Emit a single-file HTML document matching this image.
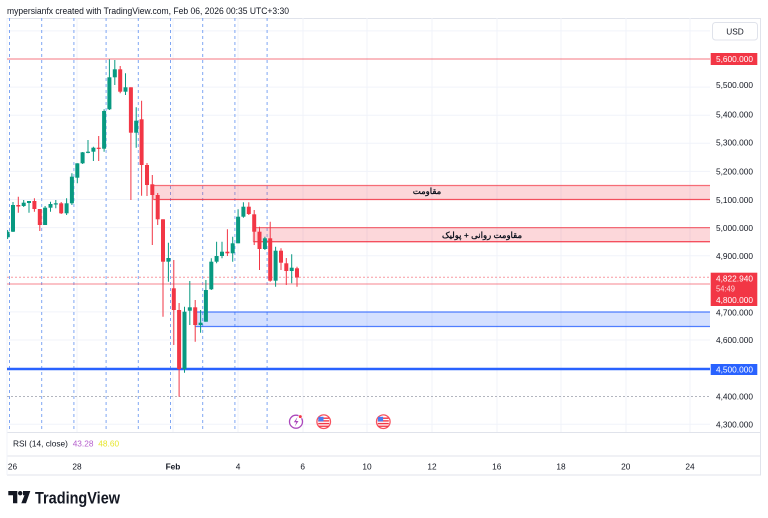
<!DOCTYPE html>
<html><head><meta charset="utf-8"><style>
html,body{margin:0;padding:0;background:#fff;width:768px;height:518px;overflow:hidden}
svg{display:block}
text{font-family:"Liberation Sans",Arial,sans-serif}
</style></head><body>
<svg width="768" height="518" viewBox="0 0 768 518" xmlns="http://www.w3.org/2000/svg">
<defs><clipPath id="pane"><rect x="7" y="18" width="703" height="414"/></clipPath></defs>
<rect width="768" height="518" fill="#fff"/>
<text x="7" y="14" font-size="8.8" fill="#131722" textLength="282" lengthAdjust="spacingAndGlyphs">mypersianfx created with TradingView.com, Feb 06, 2026 00:35 UTC+3:30</text>

<!-- frame -->
<g stroke="#e0e3eb" stroke-width="1" fill="none">
<line x1="7" y1="18.5" x2="761" y2="18.5"/>
<line x1="7" y1="432.5" x2="761" y2="432.5"/>
<line x1="7" y1="456" x2="761" y2="456"/>
<line x1="7" y1="475" x2="761" y2="475"/>
<line x1="760.5" y1="18" x2="760.5" y2="475"/>
<line x1="7" y1="18" x2="7" y2="475" stroke="#f0f3fa"/>
</g>

<g clip-path="url(#pane)">
<!-- horizontal grid -->
<g stroke="#f0f3fa" stroke-width="1">
<line x1="7" x2="710" y1="30.9" y2="30.9"/><line x1="7" x2="710" y1="87.1" y2="87.1"/>
<line x1="7" x2="710" y1="115.2" y2="115.2"/><line x1="7" x2="710" y1="143.3" y2="143.3"/>
<line x1="7" x2="710" y1="171.4" y2="171.4"/><line x1="7" x2="710" y1="199.5" y2="199.5"/>
<line x1="7" x2="710" y1="227.6" y2="227.6"/><line x1="7" x2="710" y1="255.7" y2="255.7"/>
<line x1="7" x2="710" y1="311.9" y2="311.9"/><line x1="7" x2="710" y1="340" y2="340"/>
<line x1="7" x2="710" y1="424.3" y2="424.3"/>
</g>
<!-- vertical grid -->
<g stroke="#f0f3fa" stroke-width="1">
<line x1="77" x2="77" y1="18" y2="432"/><line x1="173" x2="173" y1="18" y2="432"/>
<line x1="238" x2="238" y1="18" y2="432"/><line x1="303" x2="303" y1="18" y2="432"/>
<line x1="367" x2="367" y1="18" y2="432"/><line x1="432" x2="432" y1="18" y2="432"/>
<line x1="497" x2="497" y1="18" y2="432"/><line x1="561" x2="561" y1="18" y2="432"/>
<line x1="626" x2="626" y1="18" y2="432"/><line x1="690" x2="690" y1="18" y2="432"/>
</g>
<!-- session dashed lines -->
<g stroke="#7fa6f3" stroke-width="1" stroke-dasharray="3,3">
<line x1="9.5" x2="9.5" y1="18" y2="432"/><line x1="41.7" x2="41.7" y1="18" y2="432"/>
<line x1="73.9" x2="73.9" y1="18" y2="432"/><line x1="106.1" x2="106.1" y1="18" y2="432"/>
<line x1="138.3" x2="138.3" y1="18" y2="432"/><line x1="170.5" x2="170.5" y1="18" y2="432"/>
<line x1="202.7" x2="202.7" y1="18" y2="432"/><line x1="234.9" x2="234.9" y1="18" y2="432"/>
<line x1="267.1" x2="267.1" y1="18" y2="432"/>
</g>

<!-- zones -->
<rect x="153.3" y="185.5" width="556.7" height="14" fill="#f23645" fill-opacity="0.2"/>
<line x1="153.3" x2="710" y1="185.5" y2="185.5" stroke="#f23645" stroke-opacity="0.7" stroke-width="1.3"/>
<line x1="153.3" x2="710" y1="199.5" y2="199.5" stroke="#f23645" stroke-opacity="0.85" stroke-width="1.3"/>
<line x1="153.3" x2="153.3" y1="185.5" y2="199.5" stroke="#f23645" stroke-opacity="0.5"/>

<rect x="253.3" y="227.6" width="456.7" height="14.1" fill="#f23645" fill-opacity="0.2"/>
<line x1="253.3" x2="710" y1="227.6" y2="227.6" stroke="#f23645" stroke-opacity="0.7" stroke-width="1.3"/>
<line x1="253.3" x2="710" y1="241.7" y2="241.7" stroke="#f23645" stroke-opacity="0.85" stroke-width="1.3"/>
<line x1="253.3" x2="253.3" y1="227.6" y2="241.7" stroke="#f23645" stroke-opacity="0.5"/>

<rect x="195" y="312" width="515" height="14.5" fill="#2962ff" fill-opacity="0.2"/>
<line x1="195" x2="710" y1="312" y2="312" stroke="#2962ff" stroke-opacity="0.8" stroke-width="1.3"/>
<line x1="195" x2="710" y1="326.5" y2="326.5" stroke="#2962ff" stroke-opacity="0.8" stroke-width="1.3"/>
<line x1="195" x2="195" y1="312" y2="326.5" stroke="#2962ff" stroke-opacity="0.5"/>

<text x="427" y="194" font-size="8.5" font-weight="bold" fill="#131722" text-anchor="middle" font-family="'DejaVu Sans',sans-serif">مقاومت</text>
<text x="482" y="238" font-size="8.5" font-weight="bold" fill="#131722" text-anchor="middle" font-family="'DejaVu Sans',sans-serif">مقاومت روانی + پولیک</text>

<!-- horizontal levels -->
<line x1="7" x2="710" y1="59" y2="59" stroke="#f23645" stroke-opacity="0.45" stroke-width="1.5"/>
<line x1="7" x2="710" y1="277.3" y2="277.3" stroke="#f23645" stroke-opacity="0.5" stroke-width="1" stroke-dasharray="2,2"/>
<line x1="7" x2="710" y1="284" y2="284" stroke="#f23645" stroke-opacity="0.6" stroke-width="1"/>
<line x1="7" x2="710" y1="396.5" y2="396.5" stroke="#b2b5be" stroke-width="1" stroke-dasharray="2,2"/>
<line x1="7" x2="710" y1="369" y2="369" stroke="#2962ff" stroke-width="2.5"/>

<!-- wicks -->
<path fill="none" stroke="#089981" stroke-width="1" d="M7.6 230V239M13 202V232M23.7 200V207M29 201V212.7M45.1 206V225M50.5 201.7V211.7M55.8 200V208.3M66.6 198.3V215M71.9 173.3V205M77.3 163.3V183.3M82.6 152V164M88 140V153.3M93.4 146.7V161M104.1 109.3V151.7M109.4 59.3V110M114.8 60V85M125.5 73.3V95M136.2 107.3V147.7M168.4 242.7V281.7M184.5 306.7V372.7M189.8 281V325M200.6 310V332.7M205.9 280V321.7M211.3 258.3V290M216.6 241.7V263.3M222 241.7V258.3M232.7 236.7V261.7M238.1 209.3V243.3M243.4 202.3V217.7M264.9 236.7V250M275.6 246.7V286.7M291.7 254.3V283.3"/>
<path fill="none" stroke="#f23645" stroke-width="1" d="M18.3 196.7V212.7M34.4 198.3V211.7M39.8 209V231M61.2 202V214M98.7 136V161M120.2 66V93.3M130.9 87.3V200M141.6 100.7V195.7M147 163V196M152.3 175V245M157.7 193V225M163 219.3V316.7M173.8 260V345M179.1 303V396.7M195.2 300V341.7M227.4 229.3V256M248.8 202.3V215M254.2 210V245M259.5 226.7V270M270.2 221.7V281.7M281 248.3V270M286.3 258V285M297 266.7V286.7"/>
<!-- green bodies -->
<g fill="#089981">
<rect x="5.6" y="231.7" width="4" height="5.6"/><rect x="11" y="205" width="4" height="26.7"/>
<rect x="21.7" y="202.7" width="4" height="3.3"/><rect x="27" y="201" width="4" height="2"/>
<rect x="43.1" y="207.7" width="4" height="17.3"/><rect x="48.5" y="204" width="4" height="3.7"/>
<rect x="53.8" y="203.3" width="4" height="1.2"/><rect x="64.6" y="203.3" width="4" height="10"/>
<rect x="69.9" y="176.7" width="4" height="26.6"/><rect x="75.3" y="163.3" width="4" height="14.4"/>
<rect x="80.6" y="152.3" width="4" height="11"/><rect x="86" y="151.7" width="4" height="1.2"/>
<rect x="91.4" y="147.7" width="4" height="4"/><rect x="102.1" y="111" width="4" height="37.7"/>
<rect x="107.4" y="77.3" width="4" height="32"/><rect x="112.8" y="69.3" width="4" height="8"/>
<rect x="123.5" y="87.3" width="4" height="4.4"/><rect x="134.2" y="120.7" width="4" height="12"/>
<rect x="166.4" y="258" width="4" height="3.7"/><rect x="182.5" y="311.7" width="4" height="57.3"/>
<rect x="187.8" y="307.3" width="4" height="3.4"/><rect x="198.6" y="322.7" width="4" height="2.3"/>
<rect x="203.9" y="290" width="4" height="31.7"/><rect x="209.3" y="261.7" width="4" height="27.6"/>
<rect x="214.6" y="256" width="4" height="5.7"/><rect x="220" y="251.7" width="4" height="4.3"/>
<rect x="230.7" y="243.3" width="4" height="10"/><rect x="236.1" y="216.7" width="4" height="26.6"/>
<rect x="241.4" y="206.7" width="4" height="10"/><rect x="262.9" y="238.3" width="4" height="10.7"/>
<rect x="273.6" y="250.7" width="4" height="30"/><rect x="289.7" y="267.7" width="4" height="3.3"/>
</g>
<!-- red bodies -->
<g fill="#f23645">
<rect x="16.3" y="205" width="4" height="1.5"/><rect x="32.4" y="201" width="4" height="8"/>
<rect x="37.8" y="209" width="4" height="16"/><rect x="59.2" y="203.3" width="4" height="10"/>
<rect x="96.7" y="147.7" width="4" height="1.2"/><rect x="118.2" y="69.3" width="4" height="22.4"/>
<rect x="128.9" y="87.3" width="4" height="45.4"/><rect x="139.6" y="119.3" width="4" height="45.7"/>
<rect x="145" y="165" width="4" height="20"/><rect x="150.3" y="184.3" width="4" height="10.7"/>
<rect x="155.7" y="195" width="4" height="24.3"/><rect x="161" y="219.3" width="4" height="42.4"/>
<rect x="171.8" y="288.3" width="4" height="21.7"/><rect x="177.1" y="310" width="4" height="59"/>
<rect x="193.2" y="307.3" width="4" height="17.7"/><rect x="225.4" y="251.7" width="4" height="1.6"/>
<rect x="246.8" y="206.7" width="4" height="7.3"/><rect x="252.2" y="214.3" width="4" height="17.4"/>
<rect x="257.5" y="231.7" width="4" height="17.3"/><rect x="268.2" y="238.3" width="4" height="42.4"/>
<rect x="279" y="250.7" width="4" height="12"/><rect x="284.3" y="263.3" width="4" height="7.7"/>
<rect x="295" y="268.3" width="4" height="9.2"/>
</g>

<!-- event icons -->
<circle cx="296" cy="421.7" r="6.5" fill="#fff" stroke="#ab47bc" stroke-width="1.3"/>
<path d="M297.5 417L293.8 422.3H296.3L294.8 426.5L298.5 421H296Z" fill="#ab47bc"/>
<circle cx="300.3" cy="416.6" r="1.8" fill="#f23645" stroke="#fff" stroke-width="0.6"/>
<g>
<circle cx="323.7" cy="421.7" r="6.8" fill="#fff" stroke="#f7525f" stroke-width="1.3"/>
<rect x="318.5" y="417.5" width="10.4" height="1.4" fill="#f23645"/>
<rect x="318.2" y="420.2" width="11" height="1.4" fill="#f23645"/>
<rect x="318.2" y="422.9" width="11" height="1.4" fill="#f23645"/>
<rect x="318.8" y="425.6" width="9.8" height="1.3" fill="#f23645"/>
<rect x="318.3" y="416.8" width="5.2" height="4.6" fill="#4a7cf3"/>
</g>
<g>
<circle cx="383.3" cy="421.7" r="6.8" fill="#fff" stroke="#f7525f" stroke-width="1.3"/>
<rect x="378.1" y="417.5" width="10.4" height="1.4" fill="#f23645"/>
<rect x="377.8" y="420.2" width="11" height="1.4" fill="#f23645"/>
<rect x="377.8" y="422.9" width="11" height="1.4" fill="#f23645"/>
<rect x="378.4" y="425.6" width="9.8" height="1.3" fill="#f23645"/>
<rect x="377.9" y="416.8" width="5.2" height="4.6" fill="#4a7cf3"/>
</g>
</g>

<!-- price axis -->
<rect x="712.5" y="22.5" width="45" height="17.5" rx="3" fill="#fff" stroke="#e0e3eb"/>
<text x="735" y="34.5" font-size="8.3" fill="#131722" text-anchor="middle">USD</text>
<g font-size="8.3" fill="#131722">
<text x="716" y="88" textLength="37" lengthAdjust="spacingAndGlyphs">5,500.000</text>
<text x="716" y="117.3" textLength="37" lengthAdjust="spacingAndGlyphs">5,400.000</text>
<text x="716" y="145.7" textLength="37" lengthAdjust="spacingAndGlyphs">5,300.000</text>
<text x="716" y="174.7" textLength="37" lengthAdjust="spacingAndGlyphs">5,200.000</text>
<text x="716" y="203" textLength="37" lengthAdjust="spacingAndGlyphs">5,100.000</text>
<text x="716" y="231" textLength="37" lengthAdjust="spacingAndGlyphs">5,000.000</text>
<text x="716" y="259" textLength="37" lengthAdjust="spacingAndGlyphs">4,900.000</text>
<text x="716" y="315.3" textLength="37" lengthAdjust="spacingAndGlyphs">4,700.000</text>
<text x="716" y="343" textLength="37" lengthAdjust="spacingAndGlyphs">4,600.000</text>
<text x="716" y="399.7" textLength="37" lengthAdjust="spacingAndGlyphs">4,400.000</text>
<text x="716" y="427.7" textLength="37" lengthAdjust="spacingAndGlyphs">4,300.000</text>
</g>
<rect x="710.7" y="53" width="46.6" height="12" fill="#f23645"/>
<text x="716" y="62" font-size="8.3" fill="#fff" textLength="37" lengthAdjust="spacingAndGlyphs">5,600.000</text>
<rect x="710.7" y="272.7" width="46.6" height="33.3" fill="#f23645"/>
<text x="716" y="281.3" font-size="8.3" fill="#fff" textLength="37" lengthAdjust="spacingAndGlyphs">4,822.940</text>
<text x="716" y="291.3" font-size="8.3" fill="#fff" fill-opacity="0.8" textLength="19" lengthAdjust="spacingAndGlyphs">54:49</text>
<text x="716" y="303" font-size="8.3" fill="#fff" textLength="37" lengthAdjust="spacingAndGlyphs">4,800.000</text>
<rect x="710.7" y="364" width="46.6" height="11" fill="#2962ff"/>
<text x="716" y="372.5" font-size="8.3" fill="#fff" textLength="37" lengthAdjust="spacingAndGlyphs">4,500.000</text>

<!-- RSI legend -->
<text y="446.5" font-size="8.3"><tspan x="13" fill="#131722">RSI (14, close)</tspan><tspan x="72.7" fill="#b660cd">43.28</tspan><tspan x="98.3" fill="#e6e62e">48.60</tspan></text>

<!-- time axis -->
<g font-size="8.3" fill="#131722" text-anchor="middle">
<text x="12.5" y="469.5">26</text>
<text x="77" y="469.5">28</text>
<text x="173" y="469.5" font-weight="bold">Feb</text>
<text x="238" y="469.5">4</text>
<text x="302.7" y="469.5">6</text>
<text x="367" y="469.5">10</text>
<text x="432" y="469.5">12</text>
<text x="496.7" y="469.5">16</text>
<text x="561" y="469.5">18</text>
<text x="625.7" y="469.5">20</text>
<text x="690" y="469.5">24</text>
</g>

<!-- TradingView logo -->
<g fill="#131722">
<path d="M8.3 491H17.3V503.3H13V495.3H8.3Z"/>
<circle cx="20.2" cy="493.2" r="2.2"/>
<path d="M23 491H30.3L26 503.3H21.3L24.5 495.3H23Z"/>
<text x="35" y="503.3" font-size="16.5" font-weight="bold" textLength="85" lengthAdjust="spacingAndGlyphs">TradingView</text>
</g>
</svg>
</body></html>
